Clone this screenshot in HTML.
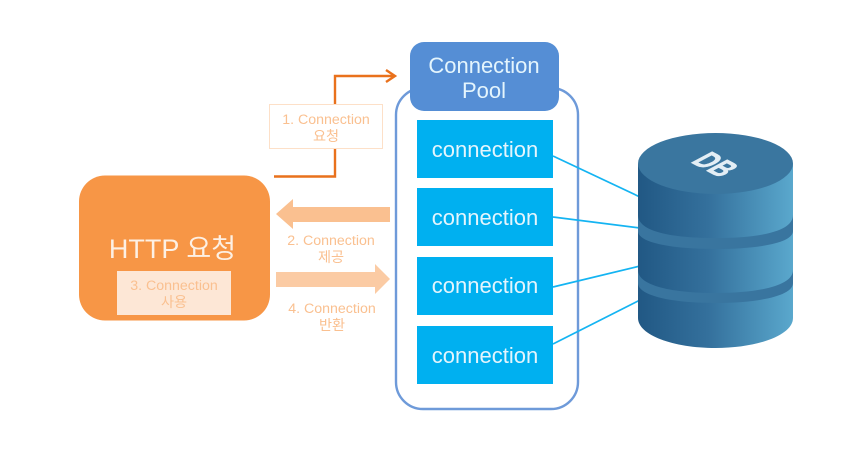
<!DOCTYPE html>
<html><head><meta charset="utf-8">
<style>
html,body{margin:0;padding:0;background:#fff;width:856px;height:453px;overflow:hidden}
svg{display:block}
text{font-family:"Liberation Sans","Noto Sans CJK KR",sans-serif;text-anchor:middle}
.c{font-size:22px;fill:#e4f5fd}
.s{font-size:14.200px;fill:#fac090}
</style></head><body>
<svg width="856" height="453" viewBox="0 0 856 453" xmlns="http://www.w3.org/2000/svg">
<defs>
<linearGradient id="g" x1="0" x2="1" y1="0" y2="0">
<stop offset="0" stop-color="#215884"/><stop offset=".45" stop-color="#34709c"/><stop offset="1" stop-color="#5aa8cd"/>
</linearGradient>
</defs>
<rect width="856" height="453" fill="#fff"/>

<!-- Pool outline -->
<rect x="396" y="88" width="182" height="321" rx="27" fill="#fff" stroke="#6e9ad9" stroke-width="2.400"/>
<rect x="410" y="42" width="149" height="69" rx="14" fill="#558ed5"/>
<text x="484" y="73" class="c">Connection</text>
<text x="484" y="98" class="c">Pool</text>

<!-- DB links -->
<g stroke="#14b4f2" stroke-width="1.700" fill="none">
<line x1="553" y1="156" x2="640" y2="197"/>
<line x1="553" y1="217" x2="640" y2="228"/>
<line x1="553" y1="287" x2="640" y2="266"/>
<line x1="553" y1="344" x2="640" y2="300"/>
</g>

<!-- connection boxes -->
<g fill="#00b0f0">
<rect x="417" y="120" width="136" height="58"/>
<rect x="417" y="188" width="136" height="58"/>
<rect x="417" y="257" width="136" height="58"/>
<rect x="417" y="326" width="136" height="58"/>
</g>
<text x="485" y="157" class="c">connection</text>
<text x="485" y="225" class="c">connection</text>
<text x="485" y="293" class="c">connection</text>
<text x="485" y="363" class="c">connection</text>

<!-- DB -->
<path d="M638 164V318C638 335 673 348 715.500 348C758 348 793 335 793 318V164Z" fill="url(#g)"/>
<path d="M638 215C638 232 673 238 715.500 238C758 238 793 232 793 215V231C793 243 758 249 715.500 249C673 249 638 243 638 231Z" fill="#39759f"/>
<path d="M638 270C638 286 673 293 715.500 293C758 293 793 286 793 270V283C793 296 758 303 715.500 303C673 303 638 296 638 283Z" fill="#39759f"/>
<ellipse cx="715.500" cy="163.500" rx="77.500" ry="30.500" fill="#3a769f"/>
<text x="0" y="0" transform="matrix(1.050,.55,-1.500,.8,690,162)" style="font-size:20px;font-weight:bold;fill:#e3eef5;stroke:#e3eef5;stroke-width:.5px;text-anchor:start">DB</text>

<!-- Orange request arrow -->
<path d="M274 176.500H335V76H394" fill="none" stroke="#e9711c" stroke-width="2.400"/>
<path d="M386 70L395 76L386 82" fill="none" stroke="#e9711c" stroke-width="2.400"/>
<rect x="269.500" y="104.500" width="113" height="44" fill="#fff" stroke="#fde0c8" stroke-width="1"/>
<text x="326" y="124" class="s">1. Connection</text>
<text x="326" y="141" class="s">요청</text>

<!-- HTTP box -->
<rect x="79" y="175.500" width="191" height="145" rx="26" fill="#f79646"/>
<text x="172.500" y="258" style="font-size:27px;fill:#fdf0e4">HTTP 요청</text>
<rect x="117" y="271" width="114" height="44" fill="#fde7d6"/>
<text x="174" y="290" class="s">3. Connection</text>
<text x="174" y="307" class="s">사용</text>

<!-- Block arrows -->
<polygon points="276,214 293,199 293,207 390,207 390,222 293,222 293,229" fill="#fac090"/>
<polygon points="390,279 375,264 375,272 276,272 276,287 375,287 375,294" fill="#fbcba4"/>
<text x="331" y="245" class="s">2. Connection</text>
<text x="331" y="262" class="s">제공</text>
<text x="332" y="313" class="s">4. Connection</text>
<text x="332" y="330" class="s">반환</text>
</svg>
</body></html>
